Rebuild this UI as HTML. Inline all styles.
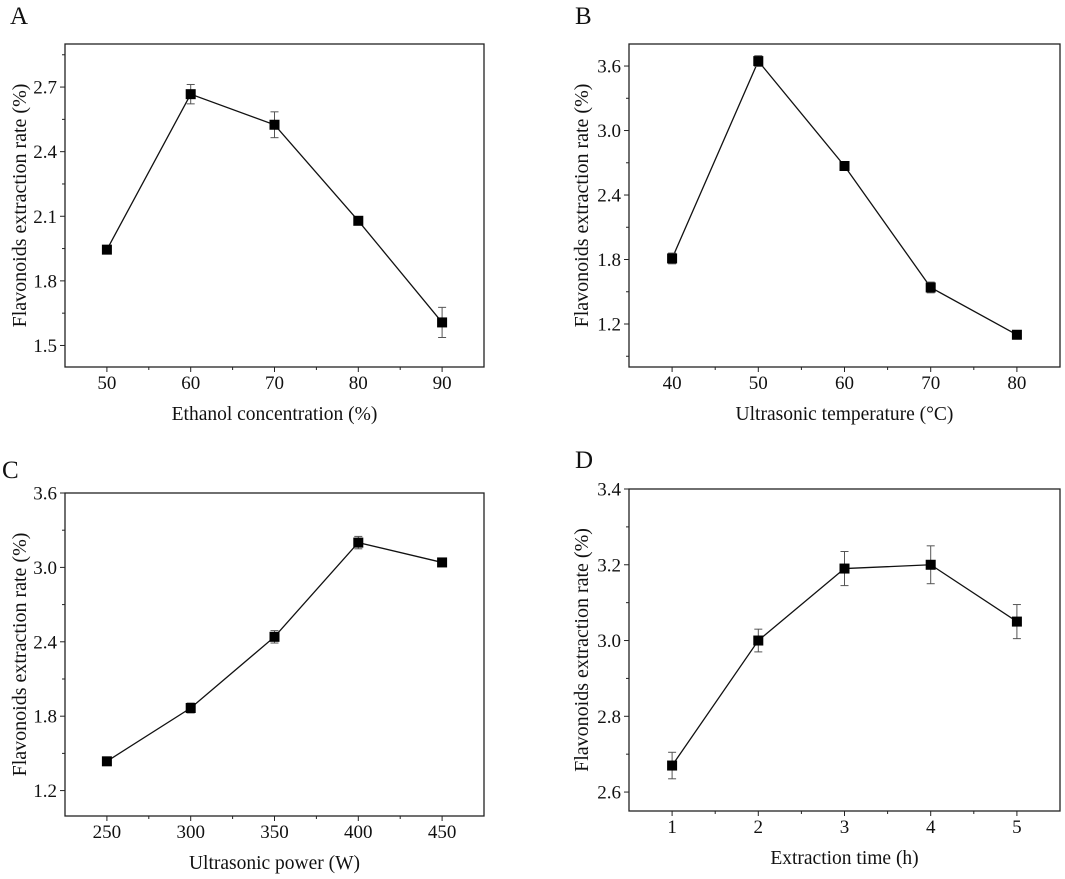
<!DOCTYPE html>
<html><head><meta charset="utf-8"><style>
body{margin:0;background:#fff;}
svg text{font-family:"Liberation Serif",serif;fill:#111;}
</style></head><body>
<svg id="fig" width="1065" height="874" xmlns="http://www.w3.org/2000/svg"></svg>
<script>
// Panel A
const catsA=[50,60,70,80,90];
const valsA=[1.945,2.667,2.525,2.079,1.607];
const errA=[0.005,0.045,0.06,0.005,0.07];
const yTicksA=[1.5,1.8,2.1,2.4,2.7];
// Panel B
const catsB=[40,50,60,70,80];
const valsB=[1.81,3.646,2.67,1.54,1.10];
const errB=[0.05,0.05,0.03,0.05,0.03];
const yTicksB=[1.2,1.8,2.4,3.0,3.6];
// Panel C
const catsC=[250,300,350,400,450];
const valsC=[1.436,1.866,2.44,3.2,3.04];
const errC=[0.01,0.04,0.05,0.05,0.03];
const yTicksC=[1.2,1.8,2.4,3.0,3.6];
// Panel D
const catsD=[1,2,3,4,5];
const valsD=[2.67,3.0,3.19,3.2,3.05];
const errD=[0.035,0.03,0.045,0.05,0.045];
const yTicksD=[2.6,2.8,3.0,3.2,3.4];

const NS="http://www.w3.org/2000/svg";
const svg=document.getElementById('fig');
function mk(tag,attrs,parent){const e=document.createElementNS(NS,tag);for(const k in attrs)e.setAttribute(k,attrs[k]);(parent||svg).appendChild(e);return e;}

function panel(o){
  const g=mk('g',{});
  
  
  const sx=v=>o.x0+(v-o.xmin)/(o.xmax-o.xmin)*(o.x1-o.x0);
  const sy=v=>o.y1-(v-o.ymin)/(o.ymax-o.ymin)*(o.y1-o.y0);
  const lt=mk('text',{x:o.lx,y:o.ly,'font-size':25},g);lt.textContent=o.letter;
  
  
  const box=mk('rect',{x:o.x0,y:o.y0,width:o.x1-o.x0,height:o.y1-o.y0,fill:'none',stroke:'#222','stroke-width':1.3},g);
  
  
  const dx=o.cats[1]-o.cats[0];
  for(let i=0;i<o.cats.length;i++){
    const c=o.cats[i],X=sx(c);
    mk('line',{x1:X,x2:X,y1:o.y1,y2:o.y1+5,stroke:'#222'},g);
    const t=mk('text',{x:X,y:o.y1+22,'font-size':19,'text-anchor':'middle'},g);t.textContent=c;
    
    
    if(i<o.cats.length-1){const m=sx(c+dx/2);mk('line',{x1:m,x2:m,y1:o.y1,y2:o.y1+3,stroke:'#222'},g);}
  }
  const dy=o.yt[1]-o.yt[0];
  for(let k=-1;k<=o.yt.length;k++){
    const v=o.yt[0]+k*dy;
    if(k>=0&&k<o.yt.length){
      const Y=sy(v);
      mk('line',{x1:o.x0-5,x2:o.x0,y1:Y,y2:Y,stroke:'#222'},g);
      const t=mk('text',{x:o.x0-8,y:Y+6.5,'font-size':19,'text-anchor':'end'},g);t.textContent=v.toFixed(1);
      
      
    }
    const mv=v+dy/2;
    if(mv>o.ymin&&mv<o.ymax){const Y=sy(mv);mk('line',{x1:o.x0-3,x2:o.x0,y1:Y,y2:Y,stroke:'#222'},g);}
  }
  const xt=mk('text',{x:(o.x0+o.x1)/2,y:o.y1+53,'font-size':19.5,'text-anchor':'middle'},g);xt.textContent=o.xlabel;
  
  
  const yc=(o.y0+o.y1)/2,yx=o.ytx;
  const yt=mk('text',{x:yx,y:yc,'font-size':20,'text-anchor':'middle',transform:`rotate(-90 ${yx} ${yc})`},g);yt.textContent='Flavonoids extraction rate (%)';
  
  
  const pts=o.cats.map((c,i)=>sx(c)+','+sy(o.vals[i])).join(' ');
  const ln=mk('polyline',{points:pts,fill:'none',stroke:'#111','stroke-width':1.3},g);
  
  
  o.cats.forEach((c,i)=>{
    const X=sx(c),Yt=sy(o.vals[i]+o.err[i]),Yb=sy(o.vals[i]-o.err[i]);
    mk('line',{x1:X,x2:X,y1:Yt,y2:Yb,stroke:'#555'},g);
    mk('line',{x1:X-4,x2:X+4,y1:Yt,y2:Yt,stroke:'#555'},g);
    mk('line',{x1:X-4,x2:X+4,y1:Yb,y2:Yb,stroke:'#555'},g);
    const r=mk('rect',{x:X-5,y:sy(o.vals[i])-5,width:10,height:10,fill:'#000'},g);
    
    
  });
}
panel({letter:'A',lx:10,ly:24,x0:65,x1:484,y0:44,y1:367,xmin:45,xmax:95,ymin:1.40,ymax:2.90,cats:catsA,vals:valsA,err:errA,yt:yTicksA,xlabel:'Ethanol concentration (%)',ytx:26});
panel({letter:'B',lx:575,ly:24,x0:629,x1:1060,y0:44,y1:367,xmin:35,xmax:85,ymin:0.8,ymax:3.805,cats:catsB,vals:valsB,err:errB,yt:yTicksB,xlabel:'Ultrasonic temperature (°C)',ytx:588});
panel({letter:'C',lx:2,ly:478,x0:65,x1:484,y0:493,y1:816,xmin:225,xmax:475,ymin:0.995,ymax:3.6,cats:catsC,vals:valsC,err:errC,yt:yTicksC,xlabel:'Ultrasonic power (W)',ytx:26});
panel({letter:'D',lx:575,ly:468,x0:629,x1:1060,y0:489,y1:811,xmin:0.5,xmax:5.5,ymin:2.55,ymax:3.4,cats:catsD,vals:valsD,err:errD,yt:yTicksD,xlabel:'Extraction time (h)',ytx:588});
</script>
</body></html>
